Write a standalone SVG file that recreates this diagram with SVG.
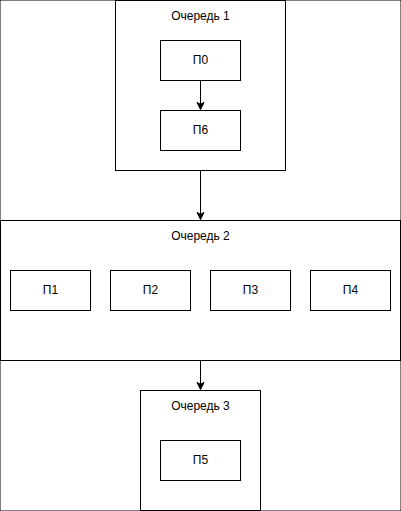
<svg xmlns="http://www.w3.org/2000/svg" width="401" height="511" viewBox="0 0 401 511">
<style>
rect{fill:#fff;stroke:#000;stroke-width:1}
text{font-family:"Liberation Sans",Arial,sans-serif;font-size:12px;fill:#000;text-anchor:middle}
.edge{stroke:#000;stroke-width:1;fill:none}
</style>
<defs>
<marker id="arr" markerWidth="10" markerHeight="10" viewBox="0 0 10 10" refX="8" refY="5" orient="auto" markerUnits="userSpaceOnUse">
<path d="M1,1.5 L8,5 L1,8.5 L2.75,5 Z" fill="#000" stroke="#000" stroke-width="1"/>
</marker>
</defs>
<rect width="401" height="511" fill="#fff" stroke="none"/>
<g id="queue1"><rect x="115.5" y="0.5" width="170" height="170"/><text x="200.5" y="20">Очередь 1</text></g>
<g id="queue2"><rect x="0.5" y="220.5" width="400" height="140"/><text x="200.5" y="240">Очередь 2</text></g>
<g id="queue3"><rect x="140.5" y="390.5" width="120" height="120"/><text x="200.5" y="410">Очередь 3</text></g>
<g id="p0"><rect x="160.5" y="40.5" width="80" height="40"/><text x="200.5" y="64">П0</text></g>
<g id="p6"><rect x="160.5" y="110.5" width="80" height="40"/><text x="200.5" y="134">П6</text></g>
<g id="p1"><rect x="10.5" y="270.5" width="80" height="40"/><text x="50.5" y="294">П1</text></g>
<g id="p2"><rect x="110.5" y="270.5" width="80" height="40"/><text x="150.5" y="294">П2</text></g>
<g id="p3"><rect x="210.5" y="270.5" width="80" height="40"/><text x="250.5" y="294">П3</text></g>
<g id="p4"><rect x="310.5" y="270.5" width="80" height="40"/><text x="350.5" y="294">П4</text></g>
<g id="p5"><rect x="160.5" y="440.5" width="80" height="40"/><text x="200.5" y="464">П5</text></g>
<g id="connectors">
<line class="edge" x1="200.5" y1="80.5" x2="200.5" y2="109.5" marker-end="url(#arr)"/>
<line class="edge" x1="200.5" y1="170.5" x2="200.5" y2="219.5" marker-end="url(#arr)"/>
<line class="edge" x1="200.5" y1="360.5" x2="200.5" y2="389.5" marker-end="url(#arr)"/>
</g>
</svg>
